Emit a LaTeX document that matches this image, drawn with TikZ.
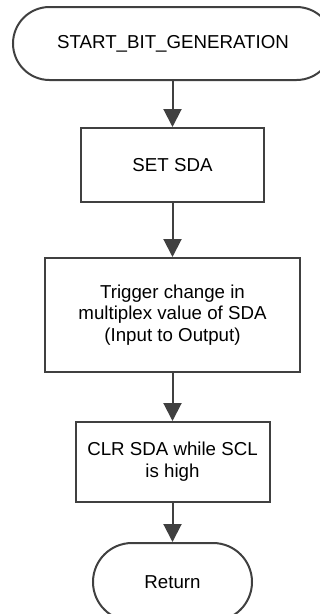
\documentclass[tikz,border=0pt]{standalone}
\usepackage{fontspec}
\setmainfont{Liberation Sans}
\usepackage{xcolor}
\usetikzlibrary{arrows.meta}
\definecolor{flowgray}{RGB}{64,64,64}
\tikzstyle{process} = [rectangle, draw=flowgray, line width=2pt, align=center, inner sep=0pt]
\tikzstyle{terminal} = [process]
\tikzstyle{arrow} = [line width=2pt, draw=flowgray, -{Triangle[width=18pt,length=18pt,fill=flowgray]}]

\begin{document}
\begin{tikzpicture}[x=1pt, y=-1pt,
		font=\fontsize{18.7}{21.7}\selectfont]
		\useasboundingbox (0,0) rectangle (320,614);

		% Start
		\node[terminal, minimum width=320pt, minimum height=73pt, rounded corners=36.5pt] (start) at (173,43.5) {START\_BIT\_GENERATION};

		% Set SDA
		\node[process, minimum width=183pt, minimum height=74pt] (set) at (172.5,165) {SET SDA};

		% Multiplex change
		\node[process, minimum width=255pt, minimum height=114pt] (trigger) at (172.5,315) {Trigger change in\\multiplex value of SDA\\(Input to Output)};

		% Clear SDA
		\node[process, minimum width=194pt, minimum height=80pt] (clr) at (172.5,462) {CLR SDA while SCL\\is high};

		% Return
		\node[terminal, minimum width=159pt, minimum height=78pt, rounded corners=39pt] (ret) at (172.5,582) {Return};

		% Arrows
		\draw[arrow] (start.south -| set.north) -- (set.north);
		\draw[arrow] (set) -- (trigger);
		\draw[arrow] (trigger) -- (clr);
		\draw[arrow] (clr) -- (ret);
\end{tikzpicture}
\end{document}
